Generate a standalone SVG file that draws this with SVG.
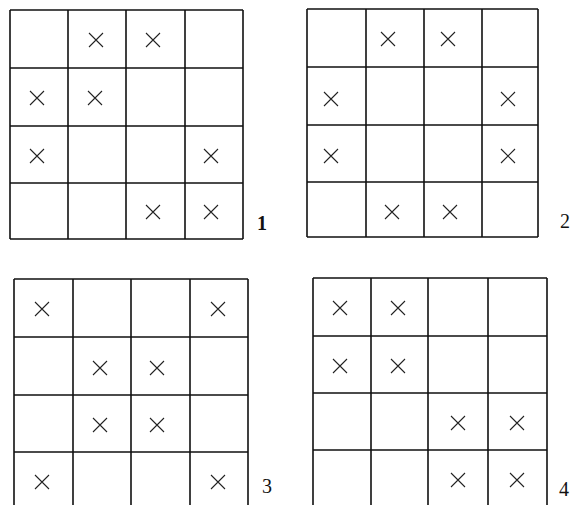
<svg xmlns="http://www.w3.org/2000/svg" xmlns:xlink="http://www.w3.org/1999/xlink" width="573" height="505" viewBox="0 0 573 505">
<style>
.g{stroke:#111;stroke-width:1.6;fill:none}
.x{stroke:#222;stroke-width:1.1;fill:none}
.lbl{font-family:"Liberation Serif",serif;font-size:20px;fill:#111}
</style>
<defs>
<path id="X" class="x" d="M-7,-7L7,7M7,-7L-7,7"/>
</defs>
<rect width="573" height="505" fill="#fff"/>
<g id="grid1">
<path class="g" d="M10,10H243M10,68H243M10,126H243M10,183H243M10,239H243M10,10V239M68,10V239M126,10V239M185,10V239M243,10V239"/>
<use xlink:href="#X" x="96" y="40"/><use xlink:href="#X" x="153" y="40"/>
<use xlink:href="#X" x="37" y="98"/><use xlink:href="#X" x="95" y="98"/>
<use xlink:href="#X" x="37" y="156"/><use xlink:href="#X" x="211" y="156"/>
<use xlink:href="#X" x="153" y="212"/><use xlink:href="#X" x="211" y="212"/>
<text class="lbl" x="257" y="230" font-weight="bold">1</text>
</g>
<g id="grid2">
<path class="g" d="M307,9H538M307,67H538M307,125H538M307,182H538M307,237H538M307,9V237M366,9V237M424,9V237M482,9V237M538,9V237"/>
<use xlink:href="#X" x="388" y="39"/><use xlink:href="#X" x="448" y="39"/>
<use xlink:href="#X" x="331" y="99"/><use xlink:href="#X" x="508" y="99"/>
<use xlink:href="#X" x="331" y="156"/><use xlink:href="#X" x="508" y="156"/>
<use xlink:href="#X" x="392" y="212"/><use xlink:href="#X" x="450" y="212"/>
<text class="lbl" x="560" y="228">2</text>
</g>
<g id="grid3">
<path class="g" d="M14,279H248M14,337H248M14,395H248M14,452H248M14,279V505M73,279V505M131,279V505M190,279V505M248,279V505"/>
<use xlink:href="#X" x="42" y="309"/><use xlink:href="#X" x="218" y="309"/>
<use xlink:href="#X" x="100" y="368"/><use xlink:href="#X" x="157" y="368"/>
<use xlink:href="#X" x="100" y="425"/><use xlink:href="#X" x="157" y="425"/>
<use xlink:href="#X" x="42" y="482"/><use xlink:href="#X" x="218" y="482"/>
<text class="lbl" x="262" y="493">3</text>
</g>
<g id="grid4">
<path class="g" d="M313,278H547M313,336H547M313,393H547M313,450H547M313,278V505M371,278V505M428,278V505M488,278V505M547,278V505"/>
<use xlink:href="#X" x="340" y="308"/><use xlink:href="#X" x="398" y="308"/>
<use xlink:href="#X" x="340" y="366"/><use xlink:href="#X" x="398" y="366"/>
<use xlink:href="#X" x="458" y="423"/><use xlink:href="#X" x="517" y="423"/>
<use xlink:href="#X" x="458" y="480"/><use xlink:href="#X" x="517" y="480"/>
<text class="lbl" x="559" y="496">4</text>
</g>
</svg>
